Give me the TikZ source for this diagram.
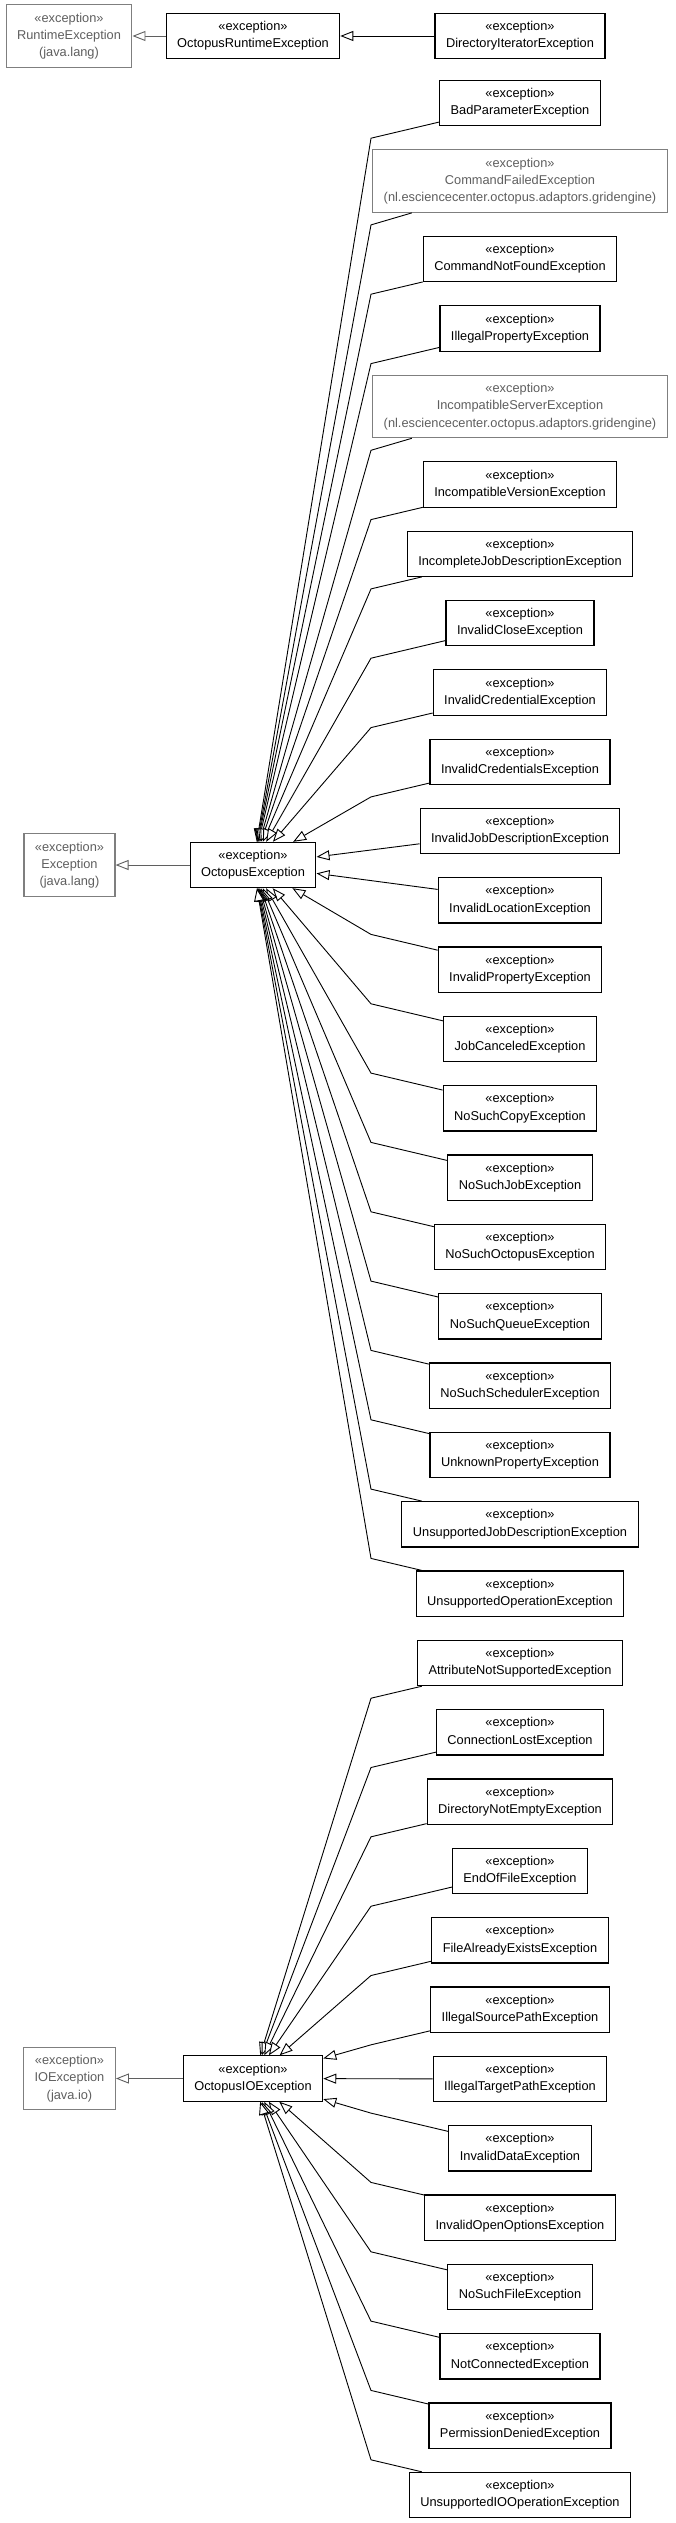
\documentclass[tikz,border=0pt]{standalone}
\usepackage{fontspec}
\setmainfont{Liberation Sans}
\usetikzlibrary{arrows.meta,calc}
\definecolor{extgray}{RGB}{95,95,95}
\begin{document}
\begin{tikzpicture}[x=1pt, y=-1pt,
  cls/.style={draw, line width=1.1pt, fill=white, align=center, inner xsep=11pt, inner ysep=0pt, minimum height=45.3pt, font=\fontsize{12.8}{17.3}\selectfont},
  extcls/.style={cls, draw=extgray!80, text=extgray, minimum height=62.7pt},
  inherit/.style={line width=0.9pt, -{Triangle[length=13pt, width=10pt, fill=white]}}]
 \useasboundingbox (0,0) rectangle (675,2523);
 \coordinate (bendx) at (371,0);
 % Hàng trên cùng
 \node[extcls] (runtimeExc) at (69,36) {«exception»\\RuntimeException\\(java.lang)};
 \node[cls] (octRuntimeExc) at (253,36) {«exception»\\OctopusRuntimeException};
 \node[cls] (dirIterExc) at (520,36) {«exception»\\DirectoryIteratorException};
 \draw[inherit, extgray] (octRuntimeExc) -- (runtimeExc);
 \draw[inherit] (dirIterExc) -- (octRuntimeExc);
 % Nhóm OctopusException
 \node[extcls] (exc) at (69.5,865) {«exception»\\Exception\\(java.lang)};
 \node[cls] (octExc) at (253,865) {«exception»\\OctopusException};
 \node[cls] (badParamExc) at (520,103) {«exception»\\BadParameterException};
 \node[extcls] (cmdFailedExc) at (520,181) {«exception»\\CommandFailedException\\(nl.esciencecenter.octopus.adaptors.gridengine)};
 \node[cls] (cmdNotFoundExc) at (520,259) {«exception»\\CommandNotFoundException};
 \node[cls] (illegalPropExc) at (520,328.4) {«exception»\\IllegalPropertyException};
 \node[extcls] (incompServerExc) at (520,406.4) {«exception»\\IncompatibleServerException\\(nl.esciencecenter.octopus.adaptors.gridengine)};
 \node[cls] (incompVersionExc) at (520,484.4) {«exception»\\IncompatibleVersionException};
 \node[cls] (incompleteJobExc) at (520,553.7) {«exception»\\IncompleteJobDescriptionException};
 \node[cls] (invCloseExc) at (520,623) {«exception»\\InvalidCloseException};
 \node[cls] (invCredentialExc) at (520,692.4) {«exception»\\InvalidCredentialException};
 \node[cls] (invCredentialsExc) at (520,761.7) {«exception»\\InvalidCredentialsException};
 \node[cls] (invJobDescExc) at (520,831) {«exception»\\InvalidJobDescriptionException};
 \node[cls] (invLocationExc) at (520,900.3) {«exception»\\InvalidLocationException};
 \node[cls] (invPropertyExc) at (520,969.6) {«exception»\\InvalidPropertyException};
 \node[cls] (jobCanceledExc) at (520,1039) {«exception»\\JobCanceledException};
 \node[cls] (noCopyExc) at (520,1108.3) {«exception»\\NoSuchCopyException};
 \node[cls] (noJobExc) at (520,1177.6) {«exception»\\NoSuchJobException};
 \node[cls] (noOctopusExc) at (520,1247) {«exception»\\NoSuchOctopusException};
 \node[cls] (noQueueExc) at (520,1316.3) {«exception»\\NoSuchQueueException};
 \node[cls] (noSchedulerExc) at (520,1385.6) {«exception»\\NoSuchSchedulerException};
 \node[cls] (unknownPropExc) at (520,1455) {«exception»\\UnknownPropertyException};
 \node[cls] (unsupJobDescExc) at (520,1524.3) {«exception»\\UnsupportedJobDescriptionException};
 \node[cls] (unsupOpExc) at (520,1593.6) {«exception»\\UnsupportedOperationException};
 \draw[inherit, extgray] (octExc) -- (exc);
 \foreach \c in {badParamExc,cmdFailedExc,cmdNotFoundExc,illegalPropExc,incompServerExc,incompVersionExc,incompleteJobExc,invCloseExc,invCredentialExc,invCredentialsExc}
  \draw[inherit] (\c) -- ($(\c.south -| bendx)+(0,12)$) -- (octExc);
 \foreach \c in {invJobDescExc,invLocationExc}
  \draw[inherit] (\c) -- (octExc);
 \foreach \c in {invPropertyExc,jobCanceledExc,noCopyExc,noJobExc,noOctopusExc,noQueueExc,noSchedulerExc,unknownPropExc,unsupJobDescExc,unsupOpExc}
  \draw[inherit] (\c) -- ($(\c.north -| bendx)+(0,-12)$) -- (octExc);
 % Nhóm OctopusIOException
 \node[extcls] (ioExc) at (69.5,2078.5) {«exception»\\IOException\\(java.io)};
 \node[cls] (octIOExc) at (253,2078.5) {«exception»\\OctopusIOException};
 \node[cls] (attrNotSupExc) at (520,1663) {«exception»\\AttributeNotSupportedException};
 \node[cls] (connLostExc) at (520,1732.3) {«exception»\\ConnectionLostException};
 \node[cls] (dirNotEmptyExc) at (520,1801.6) {«exception»\\DirectoryNotEmptyException};
 \node[cls] (eofExc) at (520,1871) {«exception»\\EndOfFileException};
 \node[cls] (fileExistsExc) at (520,1940.3) {«exception»\\FileAlreadyExistsException};
 \node[cls] (illegalSrcExc) at (520,2009.6) {«exception»\\IllegalSourcePathException};
 \node[cls] (illegalTgtExc) at (520,2079) {«exception»\\IllegalTargetPathException};
 \node[cls] (invDataExc) at (520,2148.3) {«exception»\\InvalidDataException};
 \node[cls] (invOpenOptExc) at (520,2217.6) {«exception»\\InvalidOpenOptionsException};
 \node[cls] (noFileExc) at (520,2287) {«exception»\\NoSuchFileException};
 \node[cls] (notConnExc) at (520,2356.3) {«exception»\\NotConnectedException};
 \node[cls] (permDeniedExc) at (520,2425.6) {«exception»\\PermissionDeniedException};
 \node[cls] (unsupIOOpExc) at (520,2495) {«exception»\\UnsupportedIOOperationException};
 \draw[inherit, extgray] (octIOExc) -- (ioExc);
 \foreach \c in {attrNotSupExc,connLostExc,dirNotEmptyExc,eofExc,fileExistsExc,illegalSrcExc}
  \draw[inherit] (\c) -- ($(\c.south -| bendx)+(0,12)$) -- (octIOExc);
 \draw[inherit] (illegalTgtExc) -- (octIOExc);
 \foreach \c in {invDataExc,invOpenOptExc,noFileExc,notConnExc,permDeniedExc,unsupIOOpExc}
  \draw[inherit] (\c) -- ($(\c.north -| bendx)+(0,-12)$) -- (octIOExc);
\end{tikzpicture}
\end{document}
